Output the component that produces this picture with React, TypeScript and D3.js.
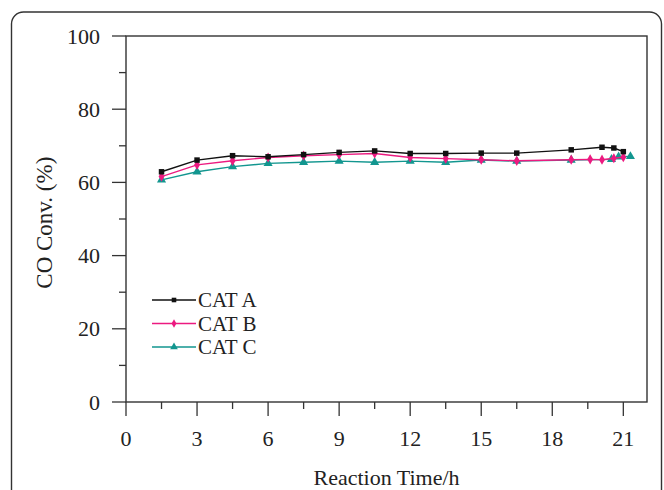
import React, { useEffect, useRef } from "react";
import * as d3 from "d3";

const xA = [1.5, 3, 4.5, 6, 7.5, 9, 10.5, 12, 13.5, 15, 16.5, 18.8, 20.1, 20.6, 21];
const yA = [62.9, 66.1, 67.3, 67.0, 67.6, 68.2, 68.6, 67.9, 67.9, 68.0, 68.0, 68.9, 69.6, 69.4, 68.4];
const xB = [1.5, 3, 4.5, 6, 7.5, 9, 10.5, 12, 13.5, 15, 16.5, 18.8, 19.6, 20.1, 20.6, 21];
const yB = [61.6, 64.8, 65.9, 66.8, 67.3, 67.6, 67.9, 66.8, 66.5, 66.2, 65.9, 66.2, 66.3, 66.2, 66.6, 66.9];
const xC = [1.5, 3, 4.5, 6, 7.5, 9, 10.5, 12, 13.5, 15, 16.5, 18.8, 20.5, 20.8, 21.3];
const yC = [60.7, 62.9, 64.3, 65.2, 65.5, 65.8, 65.5, 65.8, 65.5, 66.1, 65.8, 66.1, 66.3, 67.0, 67.1];
const seriesNames = ["CAT A", "CAT B", "CAT C"];
const xTicks = [0, 3, 6, 9, 12, 15, 18, 21];
const yTicks = [0, 20, 40, 60, 80, 100];

const colors = ["#111111", "#ec1a80", "#12968f"];
const symbols = [d3.symbolSquare, d3.symbolDiamond, d3.symbolTriangle];
const symSizes = [30, 30, 36];

export default function App() {
  const ref = useRef<SVGSVGElement>(null);
  useEffect(() => {
    const svg = d3.select(ref.current);
    svg.selectAll("*").remove();
    const font = "'Liberation Serif', 'Times New Roman', serif";
    const x = d3.scaleLinear().domain([0, 22]).range([126, 647]);
    const y = d3.scaleLinear().domain([0, 100]).range([402, 36]);

    // outer rounded border
    svg.append("rect").attr("x", 11.5).attr("y", 12).attr("width", 650).attr("height", 520)
      .attr("rx", 12).attr("fill", "white").attr("stroke", "#333").attr("stroke-width", 1.4);

    // plot frame
    svg.append("rect").attr("x", 126).attr("y", 36).attr("width", 647 - 126).attr("height", 402 - 36)
      .attr("fill", "none").attr("stroke", "#333").attr("stroke-width", 1.4);

    const g = svg.append("g");
    // x ticks
    d3.range(0, 22, 1.5).forEach((v) => {
      const major = v % 3 === 0;
      g.append("line").attr("x1", x(v)).attr("x2", x(v)).attr("y1", 402).attr("y2", 402 + (major ? 14 : 7))
        .attr("stroke", "#333").attr("stroke-width", 1.3);
    });
    xTicks.forEach((v) => {
      g.append("text").attr("x", x(v)).attr("y", 446).attr("text-anchor", "middle")
        .attr("font-family", font).attr("font-size", 22).attr("fill", "#222").text(v);
    });
    // y ticks
    d3.range(0, 101, 10).forEach((v) => {
      const major = v % 20 === 0;
      g.append("line").attr("x1", 126 - (major ? 14 : 7)).attr("x2", 126).attr("y1", y(v)).attr("y2", y(v))
        .attr("stroke", "#333").attr("stroke-width", 1.3);
    });
    yTicks.forEach((v) => {
      g.append("text").attr("x", 100).attr("y", y(v) + 7.5).attr("text-anchor", "end")
        .attr("font-family", font).attr("font-size", 22).attr("fill", "#222").text(v);
    });

    // axis titles
    svg.append("text").attr("x", x(11)).attr("y", 485).attr("text-anchor", "middle")
      .attr("font-family", font).attr("font-size", 22).attr("fill", "#222").text("Reaction Time/h");
    svg.append("text").attr("transform", `translate(52,${y(49)}) rotate(-90)`).attr("text-anchor", "middle")
      .attr("font-family", font).attr("font-size", 23).attr("fill", "#222").text("CO Conv. (%)");

    const data = [
      xA.map((v, i) => [v, yA[i]]),
      xB.map((v, i) => [v, yB[i]]),
      xC.map((v, i) => [v, yC[i]]),
    ] as [number, number][][];

    const line = d3.line<[number, number]>().x((d) => x(d[0])).y((d) => y(d[1]));
    [2, 1, 0].forEach((s) => {
      svg.append("path").attr("d", line(data[s])!).attr("fill", "none")
        .attr("stroke", colors[s]).attr("stroke-width", 1.4);
      const sym = d3.symbol().type(symbols[s]).size(symSizes[s]);
      data[s].forEach((d) => {
        svg.append("path").attr("d", sym()!).attr("transform", `translate(${x(d[0])},${y(d[1])})`)
          .attr("fill", colors[s]);
      });
    });

    // legend
    const ly = [300, 323.5, 347];
    seriesNames.forEach((name, s) => {
      svg.append("line").attr("x1", 152).attr("x2", 196).attr("y1", ly[s]).attr("y2", ly[s])
        .attr("stroke", colors[s]).attr("stroke-width", 1.4);
      const sym = d3.symbol().type(symbols[s]).size(symSizes[s] * 0.7);
      svg.append("path").attr("d", sym()!).attr("transform", `translate(174,${ly[s]})`).attr("fill", colors[s]);
      svg.append("text").attr("x", 198).attr("y", ly[s] + 7).attr("font-family", font)
        .attr("font-size", 21).attr("fill", "#222").text(name);
    });
  }, []);
  return (
    <svg ref={ref} width={664} height={490}
      style={{ position: "absolute", left: 0, top: 0, background: "white" }} />
  );
}
